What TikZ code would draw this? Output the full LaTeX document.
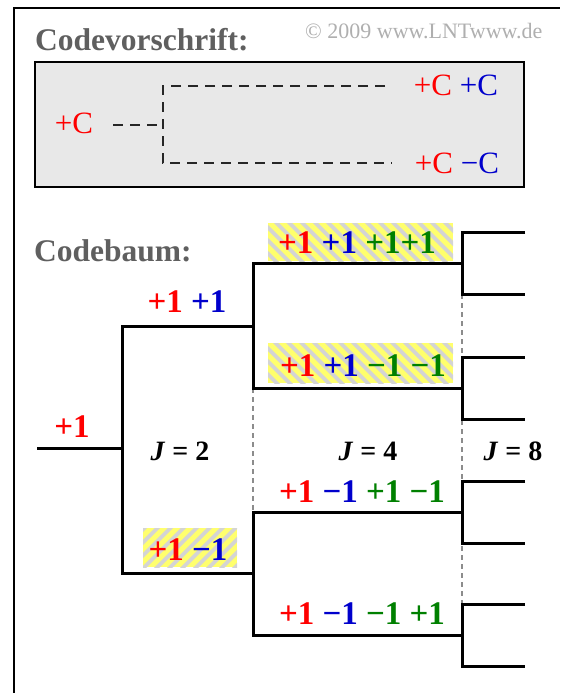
\documentclass[tikz,border=0pt]{standalone}
\usepackage{fontspec}
\setmainfont{Liberation Serif}
\definecolor{cRed}{RGB}{255,0,0}
\definecolor{cBlue}{RGB}{0,0,204}
\definecolor{cGreen}{RGB}{0,128,0}
\definecolor{boxgray}{RGB}{232,232,232}
\definecolor{titlegray}{RGB}{95,95,95}
\definecolor{copygray}{RGB}{175,175,175}
\definecolor{hatchyellow}{RGB}{255,255,110}
\definecolor{hatchgray}{RGB}{212,212,212}
\tikzset{
  titletext/.style={text=titlegray, inner sep=0pt, font=\bfseries\fontsize{31.5}{31.5}\selectfont},
  copytext/.style={text=copygray, inner sep=0pt, font=\fontsize{22}{22}\selectfont},
  ctext/.style={inner sep=0pt, font=\fontsize{31}{31}\selectfont},
  lbl/.style={inner sep=0pt, font=\bfseries\fontsize{33}{33}\selectfont},
  jlbl/.style={inner sep=0pt, font=\bfseries\fontsize{28}{28}\selectfont},
  codedash/.style={draw=black!85, line width=2.5pt, dash pattern=on 10pt off 7pt},
  treeline/.style={draw=black, line width=3pt},
  guide/.style={draw=black!45, line width=1.1pt, dash pattern=on 5pt off 4pt},
  hatchbase/.style={fill=hatchyellow, inner sep=0pt, draw=none},
  hatchNW/.style={hatchbase, path picture={
    \foreach \k in {-11,...,11}{
      \draw[hatchgray, line width=3.8pt] ([xshift=\k*13pt]path picture bounding box.center) ++(-30pt,30pt) -- ++(60pt,-60pt);
    }}},
  hatchNE/.style={hatchbase, path picture={
    \foreach \k in {-11,...,11}{
      \draw[hatchgray, line width=3.8pt] ([xshift=\k*13pt]path picture bounding box.center) ++(-30pt,-30pt) -- ++(60pt,60pt);
    }}},
}
\begin{document}
\begin{tikzpicture}[x=1pt,y=-1pt]
\useasboundingbox (0,0) rectangle (560,693);
% outer frame (cut off at right and bottom)
\draw[line width=2pt] (14,693) -- (14,8) -- (560,8);

% titles
\node[titletext, anchor=base west] (title1) at (35,51) {Codevorschrift:};
\node[copytext, anchor=base west] (copy) at (305,38) {© 2009 www.LNTwww.de};
\node[titletext, anchor=base west] (title2) at (34,261) {Codebaum:};

% code rule box
\draw[fill=boxgray, line width=1.5pt] (35,62) rectangle (524,187);
\node[ctext, text=cRed] (cin) at (74,123) {+C};
\coordinate (cs) at (113,125);
\coordinate (cj) at (163,125);
\coordinate (cu) at (163,86);
\coordinate (cd) at (163,163);
\coordinate (cue) at (385,86);
\coordinate (cde) at (392,163);
\draw[codedash] (cs) -- (cj);
\draw[codedash] (cue) -- (cu) -- (cd) -- (cde);
\node[ctext] (cout1) at (456,85) {\textcolor{cRed}{+C} \textcolor{cBlue}{+C}};
\node[ctext] (cout2) at (457,163) {\textcolor{cRed}{+C} \textcolor{cBlue}{−C}};

% guide lines
\coordinate (g1a) at (253,388); \coordinate (g1b) at (253,512);
\coordinate (g2a) at (462,294); \coordinate (g2b) at (462,605);
\draw[guide] (g1a) -- (g1b);
\draw[guide] (g2a) -- (g2b);

% hatched boxes
\node[hatchNW, minimum width=185pt, minimum height=38pt] (hb1) at (360.5,242) {};
\node[hatchNW, minimum width=185pt, minimum height=40pt] (hb2) at (360.5,363) {};
\node[hatchNE, minimum width=94pt, minimum height=39pt] (hb3) at (190,547.5) {};

% tree
\coordinate (r0) at (37,448);
\coordinate (a) at (122,448);
\coordinate (au) at (122,326);
\coordinate (ad) at (122,573);
\coordinate (bu) at (253,326);
\coordinate (bd) at (253,573);
\coordinate (buu) at (253,263);
\coordinate (bud) at (253,388);
\coordinate (bdu) at (253,512);
\coordinate (bdd) at (253,635);
\coordinate (c1) at (462,263);
\coordinate (c2) at (462,388);
\coordinate (c3) at (462,512);
\coordinate (c4) at (462,635);
\draw[treeline] (r0) -- (a);
\draw[treeline] (bu) -- (au) -- (ad) -- (bd);
\draw[treeline] (c1) -- (buu) -- (bud) -- (c2);
\draw[treeline] (c3) -- (bdu) -- (bdd) -- (c4);
\foreach \c/\n in {c1/1,c2/2,c3/3,c4/4}{
  \draw[treeline] (\c) ++(63pt,31pt) coordinate (l\n u) -- ++(-63pt,0) -- ++(0,-62pt) -- ++(63pt,0) coordinate (l\n d);
}

% labels
\node[lbl, text=cRed] (L0) at (72,427) {+1};
\node[lbl] (L1) at (187,302) {\textcolor{cRed}{+1} \textcolor{cBlue}{+1}};
\node[lbl] (L2) at (188,550) {\textcolor{cRed}{+1} \textcolor{cBlue}{−1}};
\node[lbl] (L3) at (357,243) {\textcolor{cRed}{+1} \textcolor{cBlue}{+1} \textcolor{cGreen}{+1+1}};
\node[lbl] (L4) at (363,366) {\textcolor{cRed}{+1} \textcolor{cBlue}{+1} \textcolor{cGreen}{−1 −1}};
\node[lbl] (L5) at (362,492) {\textcolor{cRed}{+1} \textcolor{cBlue}{−1} \textcolor{cGreen}{+1 −1}};
\node[lbl] (L6) at (362,614) {\textcolor{cRed}{+1} \textcolor{cBlue}{−1} \textcolor{cGreen}{−1 +1}};

\node[jlbl] (J2) at (180,451) {\textit{J} = 2};
\node[jlbl] (J4) at (368,451) {\textit{J} = 4};
\node[jlbl] (J8) at (513,451) {\textit{J} = 8};
\end{tikzpicture}
\end{document}
